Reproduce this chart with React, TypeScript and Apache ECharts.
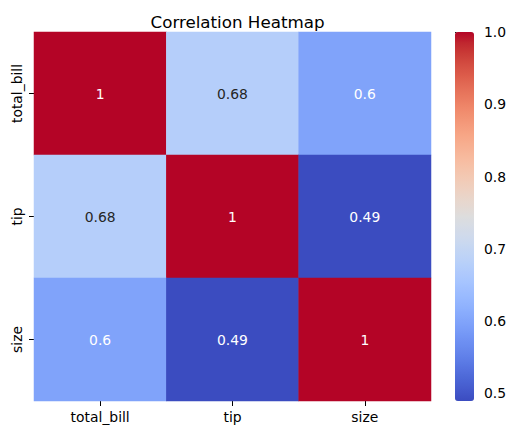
import React, { useEffect, useRef } from "react";
import * as echarts from "echarts";

const labels = ["total_bill", "tip", "size"];
const rowTotalBill = [1, 0.676, 0.598];
const rowTip = [0.676, 1, 0.489];
const rowSize = [0.598, 0.489, 1];
const colorbarTicks = [0.5, 0.6, 0.7, 0.8, 0.9, 1.0];
const vMin = 0.4893;
const vMax = 1.0;

const coolwarm: number[][] = [
  [59, 76, 192], [68, 90, 204], [77, 104, 215], [87, 117, 225], [98, 130, 234],
  [108, 142, 241], [119, 154, 247], [130, 165, 251], [141, 176, 254], [152, 185, 255],
  [163, 194, 255], [174, 201, 253], [184, 208, 249], [194, 213, 244], [204, 217, 238],
  [213, 219, 230], [221, 221, 221], [229, 216, 209], [236, 211, 197], [241, 204, 184],
  [245, 196, 172], [247, 187, 159], [247, 177, 147], [247, 166, 134], [244, 154, 123],
  [241, 141, 111], [236, 127, 99], [229, 112, 89], [222, 96, 77], [213, 80, 67],
  [203, 62, 56], [192, 40, 47], [180, 4, 38],
];

const toHex = (c: number[]) =>
  "#" + c.map((v) => Math.round(v).toString(16).padStart(2, "0")).join("");

function sample(t: number): number[] {
  const p = Math.max(0, Math.min(1, t)) * (coolwarm.length - 1);
  const i = Math.min(Math.floor(p), coolwarm.length - 2);
  const f = p - i;
  return coolwarm[i].map((v, k) => v + (coolwarm[i + 1][k] - v) * f);
}

function textColor(v: number): string {
  const c = sample((v - vMin) / (vMax - vMin)).map((x) => {
    const s = x / 255;
    return s <= 0.03928 ? s / 12.92 : Math.pow((s + 0.055) / 1.055, 2.4);
  });
  const lum = 0.2126 * c[0] + 0.7152 * c[1] + 0.0722 * c[2];
  return lum > 0.408 ? "#262626" : "#ffffff";
}

const FONT = "DejaVu Sans";

export default function App() {
  const ref = useRef<HTMLDivElement>(null);
  useEffect(() => {
    if (!ref.current) return;
    const chart = echarts.init(ref.current, undefined, { renderer: "svg" });
    const rows = [rowTotalBill, rowTip, rowSize];
    const data: any[] = [];
    rows.forEach((row, r) =>
      row.forEach((v, c) =>
        data.push({ value: [c, r, v], label: { color: textColor(v) } })
      )
    );
    chart.setOption({
      animation: false,
      backgroundColor: "#ffffff",
      title: {
        text: "Correlation Heatmap",
        left: 232.5,
        textAlign: "center",
        top: 8,
        textStyle: { fontFamily: FONT, fontSize: 16.7, fontWeight: "normal", color: "#000" },
      },
      grid: [
        { left: 34, top: 32, width: 397, height: 369 },
        { left: 455, top: 32, width: 19, height: 369 },
      ],
      xAxis: [
        {
          type: "category",
          gridIndex: 0,
          data: labels,
          axisLine: { show: false },
          axisTick: { show: true, alignWithLabel: true, length: 5, lineStyle: { color: "#000", width: 1 } },
          axisLabel: { fontFamily: FONT, fontSize: 13.9, color: "#000", margin: 9 },
          splitLine: { show: false },
        },
        { type: "value", gridIndex: 1, show: false, min: 0, max: 1 },
      ],
      yAxis: [
        {
          type: "category",
          gridIndex: 0,
          data: labels,
          inverse: true,
          axisLine: { show: false },
          axisTick: { show: true, alignWithLabel: true, length: 5, lineStyle: { color: "#000", width: 1 } },
          axisLabel: { fontFamily: FONT, fontSize: 13.9, color: "#000", rotate: 90, margin: 10 },
          splitLine: { show: false },
        },
        {
          type: "value",
          gridIndex: 1,
          position: "right",
          min: vMin,
          max: vMax,
          axisLine: { show: false },
          splitLine: { show: false },
          axisTick: {
            show: true,
            length: 5,
            customValues: colorbarTicks,
            lineStyle: { color: "#000", width: 1 },
          },
          axisLabel: {
            customValues: colorbarTicks,
            fontFamily: FONT,
            fontSize: 13.9,
            color: "#000",
            margin: 10,
            formatter: (v: number) => v.toFixed(1),
          },
        },
      ],
      visualMap: {
        type: "continuous",
        seriesIndex: 0,
        min: vMin,
        max: vMax,
        calculable: false,
        show: true,
        orient: "vertical",
        left: 455,
        top: 32,
        itemWidth: 19,
        itemHeight: 369,
        padding: 0,
        text: ["", ""],
        showLabel: false,
        hoverLink: false,
        inRange: { color: coolwarm.map(toHex) },
      },
      series: [
        {
          type: "heatmap",
          xAxisIndex: 0,
          yAxisIndex: 0,
          data,
          label: {
            show: true,
            fontFamily: FONT,
            fontSize: 13.9,
            formatter: (p: any) => String(Number(p.value[2].toPrecision(2))),
          },
          itemStyle: { borderWidth: 0 },
          emphasis: { disabled: true },
        },
        {
          type: "line",
          xAxisIndex: 1,
          yAxisIndex: 1,
          data: [],
          silent: true,
        },
      ],
    });
    return () => chart.dispose();
  }, []);
  return (
    <div
      ref={ref}
      style={{ position: "fixed", left: 0, top: 0, width: 515, height: 435 }}
    />
  );
}
